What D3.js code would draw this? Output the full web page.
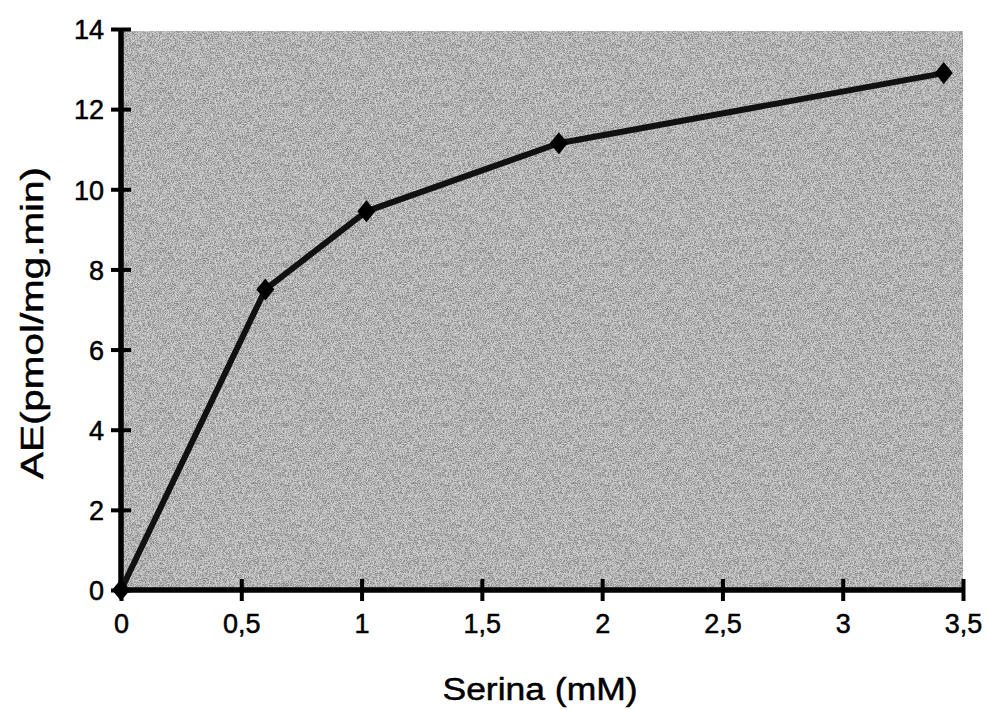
<!DOCTYPE html>
<html><head><meta charset="utf-8">
<script src="https://cdn.jsdelivr.net/npm/d3@7"></script>
<style>html,body{margin:0;padding:0;background:#fff;}svg{display:block;}</style>
</head><body>
<script>
const serina = [0, 0.6, 1.02, 1.82, 3.42];
const ae = [0, 7.5, 9.45, 11.15, 12.9];
const xTicks = [0, 0.5, 1, 1.5, 2, 2.5, 3, 3.5];
const xTickLabels = ["0", "0,5", "1", "1,5", "2", "2,5", "3", "3,5"];
const yTicks = [0, 2, 4, 6, 8, 10, 12, 14];
const xTitle = "Serina (mM)";
const yTitle = "AE(pmol/mg.min)";

const W = 987, H = 710;
const svg = d3.select("body").append("svg").attr("width", W).attr("height", H);
const font = "'Liberation Sans', Arial, sans-serif";

const x = d3.scaleLinear().domain([0, 3.5]).range([121, 963]);
const y = d3.scaleLinear().domain([0, 14]).range([590, 29]);

const defs = svg.append("defs");
const f = defs.append("filter").attr("id", "grain").attr("x", 0).attr("y", 0).attr("width", 1).attr("height", 1);
f.append("feTurbulence").attr("type", "fractalNoise").attr("baseFrequency", 1.6).attr("numOctaves", 1).attr("seed", 3).attr("result", "n");
f.append("feColorMatrix").attr("in", "n").attr("type", "matrix")
  .attr("values", "0 0 0 0 0  0 0 0 0 0  0 0 0 0 0  0 0 0 -3 1.9").attr("result", "a");
f.append("feComposite").attr("in", "a").attr("in2", "SourceGraphic").attr("operator", "in");

// plot background
const bg = {x: x(0), y: y(14) + 2, w: x(3.5) - x(0), h: y(0) - y(14) - 2};
svg.append("rect").attr("x", bg.x).attr("y", bg.y).attr("width", bg.w).attr("height", bg.h).attr("fill", "#d0d0d0");
svg.append("rect").attr("x", bg.x).attr("y", bg.y).attr("width", bg.w).attr("height", bg.h)
  .attr("fill", "#000").attr("filter", "url(#grain)").attr("opacity", 0.35);

// axes
const xAxis = d3.axisBottom(x).tickValues(xTicks).tickSize(22).tickFormat((d, i) => xTickLabels[i]);
const gx = svg.append("g").attr("transform", `translate(0,${y(0) - 11})`).call(xAxis);
gx.select(".domain").remove();
gx.selectAll(".tick line").attr("stroke", "#000").attr("stroke-width", 4);
gx.selectAll(".tick text").attr("font-family", font).attr("font-size", 27).attr("fill", "#000")
  .attr("stroke", "#000").attr("stroke-width", 0.5).attr("dy", 0).attr("y", 54);

svg.append("line").attr("x1", x(0)).attr("x2", x(3.5)).attr("y1", y(0)).attr("y2", y(0))
  .attr("stroke", "#000").attr("stroke-width", 5.5);

const yAxis = d3.axisLeft(y).tickValues(yTicks).tickSize(20).tickFormat(d3.format("d"));
const gy = svg.append("g").attr("transform", `translate(${x(0) + 10},0)`).call(yAxis);
gy.select(".domain").remove();
gy.selectAll(".tick line").attr("stroke", "#000").attr("stroke-width", 4);
gy.selectAll(".tick text").attr("font-family", font).attr("font-size", 27).attr("fill", "#000")
  .attr("stroke", "#000").attr("stroke-width", 0.5).attr("x", -27).attr("dy", "0.36em");

svg.append("line").attr("x1", x(0)).attr("x2", x(0)).attr("y1", y(14)).attr("y2", y(0) + 2)
  .attr("stroke", "#000").attr("stroke-width", 5.5);

// data line
const pts = serina.map((d, i) => [d, ae[i]]);
svg.append("path").datum(pts)
  .attr("d", d3.line().x(d => x(d[0])).y(d => y(d[1])))
  .attr("fill", "none").attr("stroke", "#111").attr("stroke-width", 6).attr("stroke-linejoin", "round");

const diamond = {draw(ctx, size) { const w = 9, h = 11; ctx.moveTo(0, -h); ctx.lineTo(w, 0); ctx.lineTo(0, h); ctx.lineTo(-w, 0); ctx.closePath(); }};
svg.selectAll("path.mk").data(pts).enter().append("path").attr("class", "mk")
  .attr("d", d3.symbol(diamond))
  .attr("transform", d => `translate(${x(d[0])},${y(d[1])})`)
  .attr("fill", "#000");

// titles
svg.append("text").attr("x", 540).attr("y", 700).attr("text-anchor", "middle")
  .attr("font-family", font).attr("font-size", 31).attr("fill", "#000").attr("stroke", "#000").attr("stroke-width", 0.5)
  .attr("textLength", 195).attr("lengthAdjust", "spacingAndGlyphs").text(xTitle);

svg.append("text").attr("transform", "translate(43,323) rotate(-90)").attr("text-anchor", "middle")
  .attr("font-family", font).attr("font-size", 31).attr("fill", "#000").attr("stroke", "#000").attr("stroke-width", 0.5)
  .attr("textLength", 312).attr("lengthAdjust", "spacingAndGlyphs").text(yTitle);
</script>
</body></html>
